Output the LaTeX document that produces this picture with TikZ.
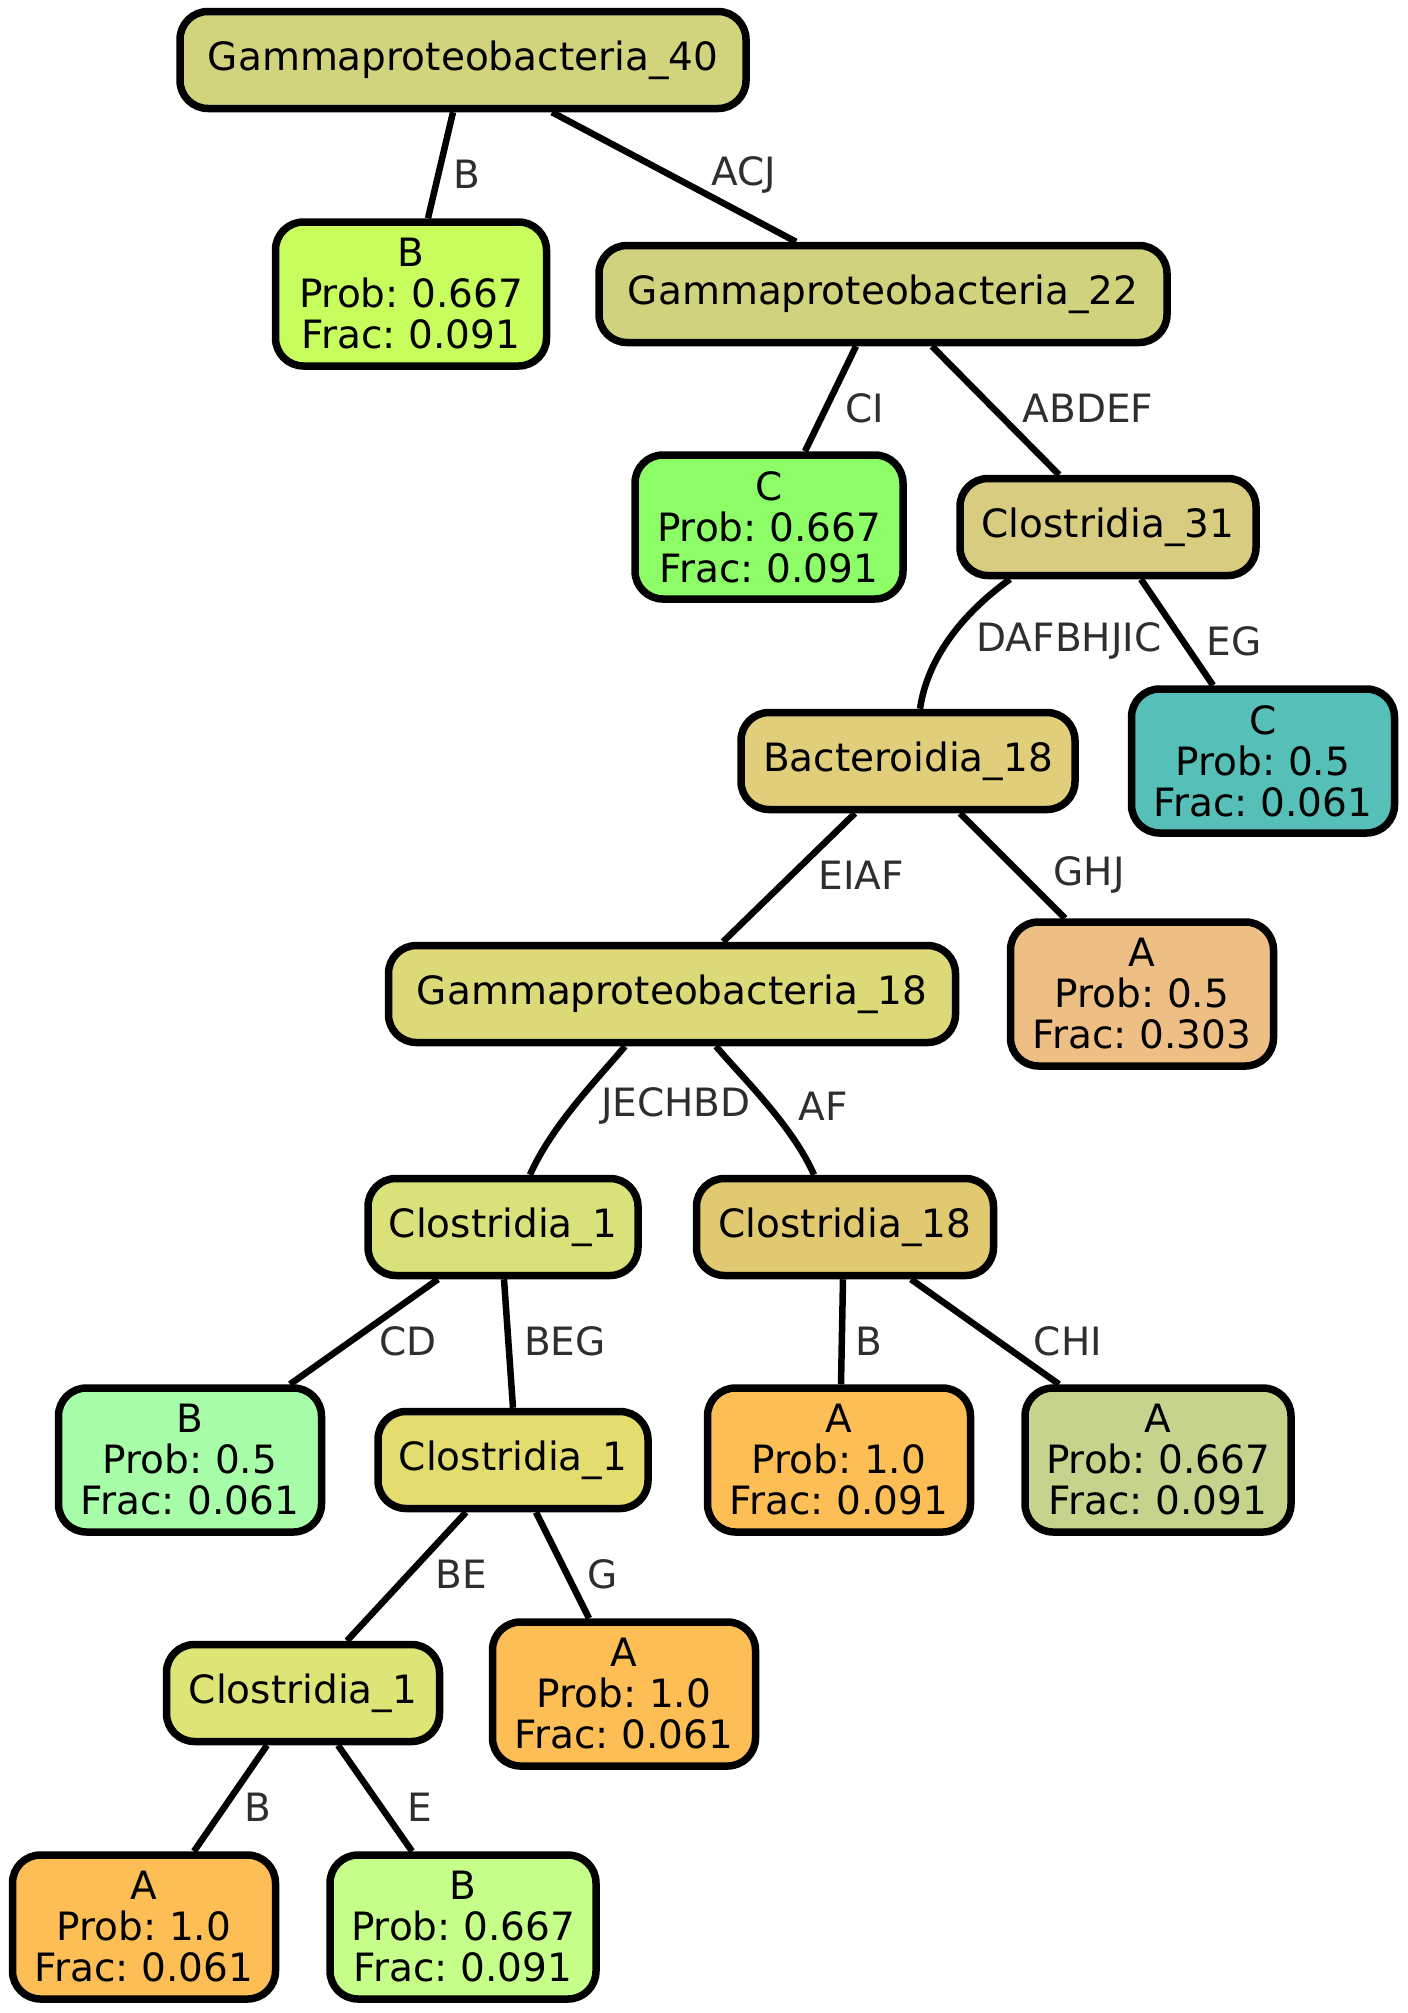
\documentclass[tikz,border=0pt]{standalone}
\usepackage{fontspec}
\setmainfont{DejaVu Sans}
\definecolor{cgA}{HTML}{D1D47D}
\definecolor{cbA}{HTML}{C7FE5D}
\definecolor{cgB}{HTML}{D1D27E}
\definecolor{ccA}{HTML}{8DFE68}
\definecolor{ccl31}{HTML}{D8CC80}
\definecolor{cbac}{HTML}{E0CE7B}
\definecolor{ccB}{HTML}{55BFB8}
\definecolor{caA}{HTML}{EEBF85}
\definecolor{cgC}{HTML}{DCDA78}
\definecolor{cclA}{HTML}{D9E17A}
\definecolor{ccl18}{HTML}{E1C972}
\definecolor{cbB}{HTML}{A8FEA8}
\definecolor{cclB}{HTML}{E3DC6E}
\definecolor{corg}{HTML}{FDBF55}
\definecolor{caB}{HTML}{C5D48D}
\definecolor{cclC}{HTML}{DDE576}
\definecolor{cbC}{HTML}{C6FE8A}
\definecolor{labc}{HTML}{2E2E2E}
\begin{document}
\frenchspacing
\begin{tikzpicture}[x=1pt,y=-1pt,
  box/.style={draw=black, line width=7.5pt, rounded corners=28pt, align=center, inner sep=0pt,
    font=\fontsize{39}{41}\selectfont, text=black},
  one/.style={box, minimum height=97pt},
  three/.style={box, minimum height=144pt},
  ed/.style={line width=6.5pt},
  lab/.style={font=\fontsize{39}{41}\selectfont, text=labc, inner sep=0pt}]
\useasboundingbox (0,0) rectangle (1408,2013);
% nodes
\node[one, fill=cgA, minimum width=566pt] (g40) at (463,60) {Gammaproteobacteria\_40};
\node[three, fill=cbA, minimum width=271pt] (b1) at (411,294) {B\\Prob: 0.667\\Frac: 0.091};
\node[one, fill=cgB, minimum width=568pt] (g22) at (883,294) {Gammaproteobacteria\_22};
\node[three, fill=ccA, minimum width=268pt] (c1) at (769,527) {C\\Prob: 0.667\\Frac: 0.091};
\node[one, fill=ccl31, minimum width=296pt] (cl31) at (1108,527) {Clostridia\_31};
\node[one, fill=cbac, minimum width=334pt] (bac18) at (908,761) {Bacteroidia\_18};
\node[three, fill=ccB, minimum width=263pt] (c2) at (1263,761) {C\\Prob: 0.5\\Frac: 0.061};
\node[three, fill=caA, minimum width=263pt] (a1) at (1142,994) {A\\Prob: 0.5\\Frac: 0.303};
\node[one, fill=cgC, minimum width=567pt] (g18) at (672,994) {Gammaproteobacteria\_18};
\node[one, fill=cclA, minimum width=270pt] (cl1a) at (503,1227) {Clostridia\_1};
\node[one, fill=ccl18, minimum width=297pt] (cl18) at (845,1227) {Clostridia\_18};
\node[three, fill=cbB, minimum width=263pt] (b2) at (190,1460) {B\\Prob: 0.5\\Frac: 0.061};
\node[one, fill=cclB, minimum width=270pt] (cl1b) at (513,1460) {Clostridia\_1};
\node[three, fill=corg, minimum width=263pt] (a2) at (839,1460) {A\\Prob: 1.0\\Frac: 0.091};
\node[three, fill=caB, minimum width=266pt] (a3) at (1158,1460) {A\\Prob: 0.667\\Frac: 0.091};
\node[one, fill=cclC, minimum width=273pt] (cl1c) at (303,1693) {Clostridia\_1};
\node[three, fill=corg, minimum width=263pt] (a4) at (624,1694) {A\\Prob: 1.0\\Frac: 0.061};
\node[three, fill=corg, minimum width=263pt] (a5) at (144,1927) {A\\Prob: 1.0\\Frac: 0.061};
\node[three, fill=cbC, minimum width=266pt] (b3) at (463,1927) {B\\Prob: 0.667\\Frac: 0.091};
% edges
\draw[ed] ([xshift=-10pt]g40.south) -- ([xshift=17pt]b1.north);
\draw[ed] ([xshift=89pt]g40.south) -- ([xshift=-87pt]g22.north);
\draw[ed] ([xshift=-27pt]g22.south) -- ([xshift=36pt]c1.north);
\draw[ed] ([xshift=49pt]g22.south) -- ([xshift=-49pt]cl31.north);
\draw[ed] ([xshift=-98pt]cl31.south) .. controls +(-42,30) and +(8,-55) .. ([xshift=12pt]bac18.north);
\draw[ed] ([xshift=33pt]cl31.south) -- ([xshift=-50pt]c2.north);
\draw[ed] ([xshift=-53pt]bac18.south) -- ([xshift=51pt]g18.north);
\draw[ed] ([xshift=52pt]bac18.south) -- ([xshift=-77pt]a1.north);
\draw[ed] ([xshift=-47pt]g18.south) .. controls +(-25,30) and +(22,-50) .. ([xshift=27pt]cl1a.north);
\draw[ed] ([xshift=44pt]g18.south) .. controls +(25,30) and +(-22,-50) .. ([xshift=-31pt]cl18.north);
\draw[ed] ([xshift=-65pt]cl1a.south) -- ([xshift=100pt]b2.north);
\draw[ed] ([xshift=1pt]cl1a.south) -- ([xshift=0pt]cl1b.north);
\draw[ed] ([xshift=-2pt]cl18.south) -- ([xshift=2pt]a2.north);
\draw[ed] ([xshift=66pt]cl18.south) -- ([xshift=-99pt]a3.north);
\draw[ed] ([xshift=-47pt]cl1b.south) -- ([xshift=44pt]cl1c.north);
\draw[ed] ([xshift=23pt]cl1b.south) -- ([xshift=-35pt]a4.north);
\draw[ed] ([xshift=-36pt]cl1c.south) -- ([xshift=50pt]a5.north);
\draw[ed] ([xshift=35pt]cl1c.south) -- ([xshift=-51pt]b3.north);
% edge labels
\node[lab] (l1) at (467,174) {B};
\node[lab] (l2) at (744,175) {ACJ};
\node[lab] (l3) at (865,408) {CI};
\node[lab] (l4) at (1088,408) {ABDEF};
\node[lab] (l5) at (1069,641) {DAFBHJIC};
\node[lab] (l6) at (1234,641) {EG};
\node[lab] (l7) at (861,875) {EIAF};
\node[lab] (l8) at (1089,875) {GHJ};
\node[lab] (l9) at (676,1106) {JECHBD};
\node[lab] (l10) at (823,1106) {AF};
\node[lab] (l11) at (408,1341) {CD};
\node[lab] (l12) at (565,1341) {BEG};
\node[lab] (l13) at (869,1341) {B};
\node[lab] (l14) at (1068,1341) {CHI};
\node[lab] (l15) at (461,1574) {BE};
\node[lab] (l16) at (603,1574) {G};
\node[lab] (l17) at (258,1807) {B};
\node[lab] (l18) at (420,1807) {E};
\end{tikzpicture}
\end{document}
